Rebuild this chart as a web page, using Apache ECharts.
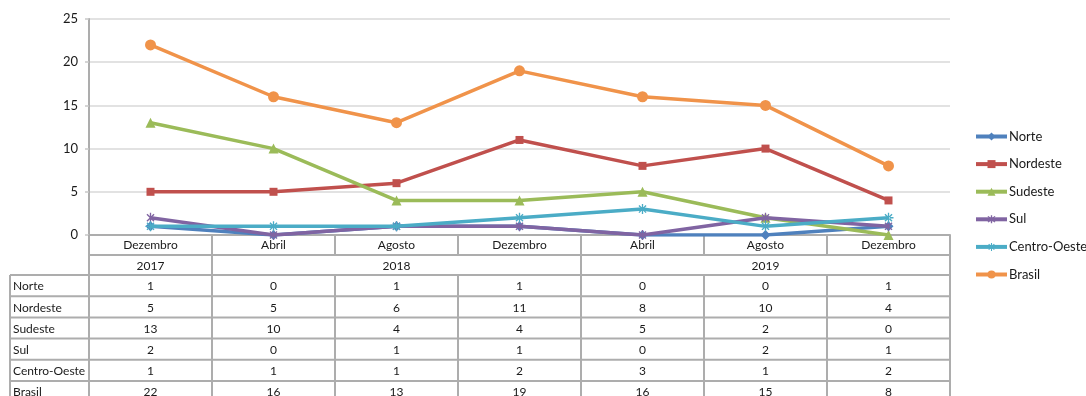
<!DOCTYPE html>
<html>
<head>
<meta charset="utf-8">
<script src="https://cdn.jsdelivr.net/npm/echarts@6/dist/echarts.min.js"></script>
<style>
  html, body { margin: 0; padding: 0; background: #ffffff; }
  #chart { width: 1086px; height: 396px; }
</style>
</head>
<body>
<div id="chart"></div>
<script>
// Months shown along the axis, with the year groups underneath
const months = ['Dezembro', 'Abril', 'Agosto', 'Dezembro', 'Abril', 'Agosto', 'Dezembro'];
const yearLabels = ['2017', '2018', '2019'];
const yearSpans = [1, 3, 3];

// Counts per region
const seriesNames = ['Norte', 'Nordeste', 'Sudeste', 'Sul', 'Centro-Oeste', 'Brasil'];
const norte = [1, 0, 1, 1, 0, 0, 1];
const nordeste = [5, 5, 6, 11, 8, 10, 4];
const sudeste = [13, 10, 4, 4, 5, 2, 0];
const sul = [2, 0, 1, 1, 0, 2, 1];
const centroOeste = [1, 1, 1, 2, 3, 1, 2];
const brasil = [22, 16, 13, 19, 16, 15, 8];

const yTicks = { min: 0, max: 25, interval: 5 };

// Layout
const W = 1086, H = 396;
const plotLeft = 89, plotRight = 950, plotTop = 19, plotBottom = 235;
const tableLeft = 10;
const catRowH = 20, yearRowH = 20, rowH = 21.2;
const borderColor = '#adadad';
const textColor = '#1a1a1a';
const fontFamily = 'Lato, "Noto Sans", sans-serif';
const fontSize = 12;

const colors = ['#4f81bd', '#c0504d', '#9bbb59', '#8064a2', '#4bacc6', '#f0934a'];

// Six-armed asterisk (vertical bar plus two diagonals), all with the same winding
const asterisk = 'path://M8.8,1L11.2,1L11.2,19L8.8,19Z' +
  'M2.79,4.49L4.49,2.79L17.21,15.51L15.51,17.21Z' +
  'M15.51,2.79L17.21,4.49L4.49,17.21L2.79,15.51Z';
// Same with a horizontal bar added
const asteriskPlus = asterisk + 'M1,8.8L1,11.2L19,11.2L19,8.8Z';

const symbols = ['diamond', 'rect', 'triangle', asterisk, asteriskPlus, 'circle'];
const symbolSizes = [10, 8, 10, 10, 10, 11];
const dataSets = [norte, nordeste, sudeste, sul, centroOeste, brasil];

const series = seriesNames.map((name, i) => ({
  name: name,
  type: 'line',
  data: dataSets[i],
  symbol: symbols[i],
  symbolSize: symbolSizes[i],
  symbolKeepAspect: true,
  showAllSymbol: true,
  lineStyle: { width: 3.5, color: colors[i] },
  itemStyle: { color: colors[i] },
  emphasis: { disabled: true },
  z: 2 + i
}));

// Data table under the axis: year row, then one row per region
const graphic = [];
const colW = (plotRight - plotLeft) / months.length;
const yearTop = plotBottom + catRowH;
const yearBottom = yearTop + yearRowH;

function hLine(x1, x2, y) {
  graphic.push({ type: 'line', shape: { x1: x1, y1: y, x2: x2, y2: y },
    style: { stroke: borderColor, lineWidth: 2 }, silent: true });
}
function vLine(x, y1, y2) {
  graphic.push({ type: 'line', shape: { x1: x, y1: y1, x2: x, y2: y2 },
    style: { stroke: borderColor, lineWidth: 2 }, silent: true });
}
function label(text, x, y, align) {
  graphic.push({ type: 'text', x: x, y: y, silent: true,
    style: { text: text, fill: textColor, font: fontSize + 'px ' + fontFamily,
      align: align, verticalAlign: 'middle' } });
}

// year row
hLine(plotLeft, plotRight, yearTop);
let col = 0;
vLine(plotLeft, yearTop, yearBottom);
yearLabels.forEach((yl, k) => {
  const x0 = plotLeft + col * colW;
  const x1 = plotLeft + (col + yearSpans[k]) * colW;
  vLine(x1, yearTop, yearBottom);
  label(yl, (x0 + x1) / 2, (yearTop + yearBottom) / 2 + 1, 'center');
  col += yearSpans[k];
});

// region rows
const tableBottom = yearBottom + rowH * seriesNames.length;
for (let r = 0; r <= seriesNames.length; r++) {
  hLine(tableLeft, plotRight, yearBottom + r * rowH);
}
vLine(tableLeft, yearBottom, tableBottom);
for (let c = 0; c <= months.length; c++) {
  vLine(plotLeft + c * colW, yearBottom, tableBottom);
}
seriesNames.forEach((name, r) => {
  const cy = yearBottom + r * rowH + rowH / 2 + 1;
  label(name, tableLeft + 3, cy, 'left');
  dataSets[r].forEach((v, c) => {
    label(String(v), plotLeft + (c + 0.5) * colW, cy, 'center');
  });
});

const chart = echarts.init(document.getElementById('chart'), null, { renderer: 'canvas' });
chart.setOption({
  animation: false,
  backgroundColor: '#ffffff',
  color: colors,
  textStyle: { fontFamily: fontFamily },
  grid: { left: plotLeft, right: W - plotRight, top: plotTop, bottom: H - plotBottom, containLabel: false },
  legend: {
    orient: 'vertical',
    left: 969,
    top: 125,
    itemWidth: 31,
    itemHeight: 10,
    itemGap: 14.6,
    data: seriesNames,
    lineStyle: { width: 4 },
    textStyle: { fontSize: 13, color: textColor, fontFamily: fontFamily, padding: [0, 0, 0, -3] },
    selectedMode: false
  },
  xAxis: {
    type: 'category',
    data: months,
    boundaryGap: true,
    axisLine: { show: true, lineStyle: { color: borderColor, width: 2 } },
    axisTick: { show: true, alignWithLabel: false, length: catRowH, lineStyle: { color: borderColor, width: 2 } },
    axisLabel: { margin: 4, fontSize: fontSize, color: textColor, interval: 0 },
    splitLine: { show: false }
  },
  yAxis: {
    type: 'value',
    min: yTicks.min,
    max: yTicks.max,
    interval: yTicks.interval,
    axisLine: { show: true, lineStyle: { color: borderColor, width: 2 } },
    axisTick: { show: true, length: 4, lineStyle: { color: '#c8c8c8', width: 1.5 } },
    axisLabel: { margin: 11, fontSize: 13, color: textColor },
    splitLine: { show: true, lineStyle: { color: '#d9d9d9', width: 1.5 } }
  },
  graphic: graphic,
  series: series
});
</script>
</body>
</html>
